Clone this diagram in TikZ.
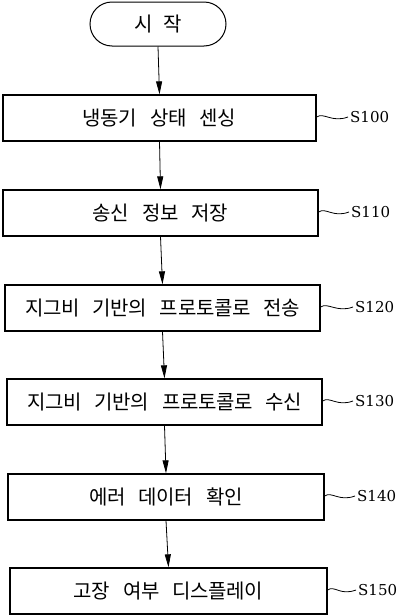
\documentclass[tikz,border=0pt]{standalone}
\usepackage{fontspec}
\newfontfamily\kr[LetterSpace=-2]{Noto Sans CJK KR}
\newfontfamily\lbl{DejaVu Serif}
\usetikzlibrary{arrows.meta,calc}
\newcommand\wg{\hspace{13pt}}
\tikzset{
  stepbox/.style={draw, line width=1.3pt, minimum height=46pt, inner sep=0pt, font=\kr\fontsize{20}{24}\selectfont},
  startbox/.style={draw, line width=1pt, rounded corners=22pt, minimum width=136pt, minimum height=44pt, inner sep=0pt, font=\kr\fontsize{20}{24}\selectfont},
  arr/.style={line width=0.8pt, -{Triangle[length=13pt,width=6pt]}},
  lab/.style={anchor=west, inner sep=0pt, font=\lbl\fontsize{15}{18}\selectfont},
  wave/.style={line width=0.8pt}
}
\begin{document}
\begin{tikzpicture}[x=1pt,y=-1pt]
\useasboundingbox (0,0) rectangle (400,616);
\node[startbox] (s) at (158,24) {시\hspace{10pt}작};
\node[stepbox, minimum width=313pt] (b1) at (159.5,118) {냉동기\wg 상태\wg 센싱};
\node[stepbox, minimum width=315pt] (b2) at (160.5,213) {송신\wg 정보\wg 저장};
\node[stepbox, minimum width=315pt] (b3) at (162.5,308) {지그비\wg 기반의\wg 프로토콜로\wg 전송};
\node[stepbox, minimum width=315pt] (b4) at (164.5,402) {지그비\wg 기반의\wg 프로토콜로\wg 수신};
\node[stepbox, minimum width=316pt] (b5) at (166,497) {에러\wg 데이터\wg 확인};
\node[stepbox, minimum width=317pt] (b6) at (168.5,591) {고장\wg 여부\wg 디스플레이};
\draw[arr] (s.south) -- (b1.north);
\draw[arr] (b1.south) -- (b2.north);
\draw[arr] (b2.south) -- (b3.north);
\draw[arr] (b3.south) -- (b4.north);
\draw[arr] (b4.south) -- (b5.north);
\draw[arr] (b5.south) -- (b6.north);
\node[lab] (l1) at (350,117) {S100};
\node[lab] (l2) at (351,212) {S110};
\node[lab] (l3) at (355,307) {S120};
\node[lab] (l4) at (355,401) {S130};
\node[lab] (l5) at (357,496) {S140};
\node[lab] (l6) at (358,590) {S150};
\foreach \b/\l in {b1/l1,b2/l2,b3/l3,b4/l4,b5/l5,b6/l6}{
  \draw[wave] (\b.east) ++(0,-1) coordinate (w0)
    .. controls ($(w0)+(7,-5)$) and ($(\l.west)+(-18,6)$) .. ($(\l.west)+(-2,0)$);
}
\end{tikzpicture}
\end{document}
